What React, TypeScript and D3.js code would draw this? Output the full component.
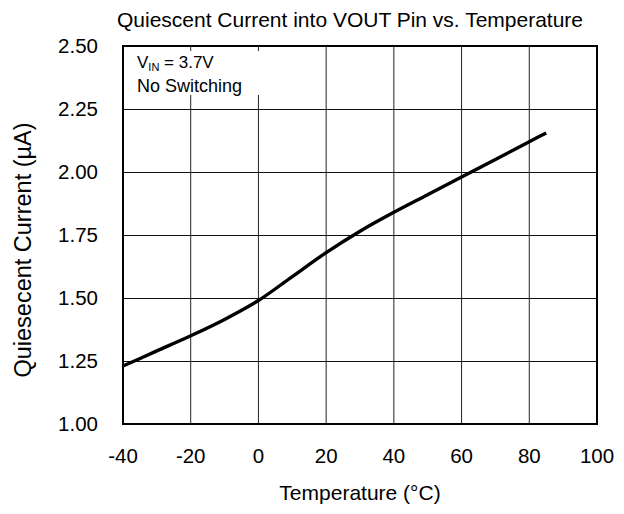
import React, { useEffect, useRef } from 'react';
import * as d3 from 'd3';

const width = 624;
const height = 514;
const margin = { top: 46, right: 27, bottom: 90, left: 123 };

// temperature (°C) and quiescent current (µA)
const temps = [-40, -30, -20, -10, 0, 10, 20, 30, 40, 50, 60, 70, 80, 85];
const current = [1.23, 1.29, 1.35, 1.415, 1.49, 1.585, 1.68, 1.765, 1.84, 1.91, 1.98, 2.05, 2.12, 2.155];

const xTicks = [-40, -20, 0, 20, 40, 60, 80, 100];
const yTicks = [1.0, 1.25, 1.5, 1.75, 2.0, 2.25, 2.5];

const font = '"Liberation Sans", Arial, sans-serif';

export default function App() {
  const svgRef = useRef<SVGSVGElement>(null);

  useEffect(() => {
    const svg = d3.select(svgRef.current);
    svg.selectAll('*').remove();

    const x = d3.scaleLinear().domain([-40, 100]).range([margin.left, width - margin.right]);
    const y = d3.scaleLinear().domain([1.0, 2.5]).range([height - margin.bottom, margin.top]);

    const g = svg.append('g');

    // grid
    g.selectAll('line.vgrid')
      .data(xTicks.slice(1, -1))
      .enter()
      .append('line')
      .attr('x1', d => x(d))
      .attr('x2', d => x(d))
      .attr('y1', y(1.0))
      .attr('y2', y(2.5))
      .attr('stroke', '#222')
      .attr('stroke-width', 1);

    g.selectAll('line.hgrid')
      .data(yTicks.slice(1, -1))
      .enter()
      .append('line')
      .attr('x1', x(-40))
      .attr('x2', x(100))
      .attr('y1', d => Math.round(y(d)) + 0.5)
      .attr('y2', d => Math.round(y(d)) + 0.5)
      .attr('stroke', '#111')
      .attr('stroke-width', 1);

    // note box
    g.append('rect')
      .attr('x', x(-40) + 2)
      .attr('y', y(2.5) + 5)
      .attr('width', 138)
      .attr('height', 44)
      .attr('fill', '#fff');

    const note = g.append('text')
      .attr('x', 137)
      .attr('y', 68)
      .attr('font-family', font)
      .attr('font-size', 17)
      .attr('fill', '#000');
    note.append('tspan').text('V');
    note.append('tspan').attr('font-size', 11).attr('dy', 3).text('IN');
    note.append('tspan').attr('dy', -3).text(' = 3.7V');

    g.append('text')
      .attr('x', 137)
      .attr('y', 92)
      .attr('font-family', font)
      .attr('font-size', 18)
      .text('No Switching');

    // curve
    const line = d3.line<number>()
      .x((d, i) => x(temps[i]))
      .y(d => y(d))
      .curve(d3.curveMonotoneX);

    g.append('path')
      .datum(current)
      .attr('d', line)
      .attr('fill', 'none')
      .attr('stroke', '#000')
      .attr('stroke-width', 3.4);

    // frame
    g.append('rect')
      .attr('x', x(-40))
      .attr('y', y(2.5))
      .attr('width', x(100) - x(-40))
      .attr('height', y(1.0) - y(2.5))
      .attr('fill', 'none')
      .attr('stroke', '#000')
      .attr('stroke-width', 2);

    // tick labels
    g.selectAll('text.xt')
      .data(xTicks)
      .enter()
      .append('text')
      .attr('x', d => x(d))
      .attr('y', 463)
      .attr('text-anchor', 'middle')
      .attr('font-family', font)
      .attr('font-size', 20.5)
      .text(d => String(d));

    g.selectAll('text.yt')
      .data(yTicks)
      .enter()
      .append('text')
      .attr('x', 98)
      .attr('y', d => y(d) + 7)
      .attr('text-anchor', 'end')
      .attr('font-family', font)
      .attr('font-size', 20.5)
      .text(d => d3.format('.2f')(d));

    // titles
    svg.append('text')
      .attr('x', 350)
      .attr('y', 27)
      .attr('text-anchor', 'middle')
      .attr('font-family', font)
      .attr('font-size', 21)
      .text('Quiescent Current into VOUT Pin vs. Temperature');

    svg.append('text')
      .attr('x', 360)
      .attr('y', 500)
      .attr('text-anchor', 'middle')
      .attr('font-family', font)
      .attr('font-size', 21)
      .text('Temperature (°C)');

    svg.append('text')
      .attr('transform', `translate(31, 250) rotate(-90)`)
      .attr('text-anchor', 'middle')
      .attr('font-family', font)
      .attr('font-size', 23.5)
      .text('Quiesecent Current (µA)');
  }, []);

  return (
    <svg
      ref={svgRef}
      width={width}
      height={height}
      style={{ position: 'absolute', left: 0, top: 0, background: '#fff' }}
    />
  );
}
